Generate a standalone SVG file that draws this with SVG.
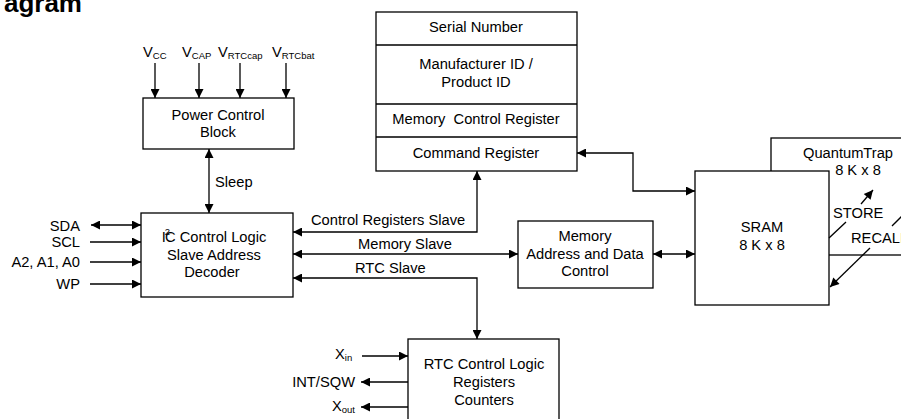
<svg xmlns="http://www.w3.org/2000/svg" width="901" height="419" viewBox="0 0 901 419">
<style>
text{font-family:"Liberation Sans",Arial,sans-serif;font-size:14.7px;fill:#000}
.c{text-anchor:middle}
.e{text-anchor:end}
.sub{font-size:9.5px}
.box{fill:#fff;stroke:#000;stroke-width:1.3}
.ln{fill:none;stroke:#000;stroke-width:1.3}
.ar{marker-end:url(#ah)}
.dar{marker-start:url(#ah);marker-end:url(#ah)}
.title{font-weight:bold;font-size:26px}
</style>
<defs>
<marker id="ah" viewBox="0 0 10 10" refX="10" refY="5" markerWidth="11" markerHeight="9" markerUnits="userSpaceOnUse" orient="auto-start-reverse">
<path d="M0,0 L10,5 L0,10 z" fill="#000"/>
</marker>
</defs>
<rect width="901" height="419" fill="#fff"/>
<text class="title e" x="82" y="12">agram</text>

<g id="power-inputs">
<text x="143" y="57">V<tspan class="sub" dy="1.5">CC</tspan></text>
<text x="182" y="57">V<tspan class="sub" dy="1.5">CAP</tspan></text>
<text x="218" y="57">V<tspan class="sub" dy="1.5">RTCcap</tspan></text>
<text x="272" y="57">V<tspan class="sub" dy="1.5">RTCbat</tspan></text>
</g>

<g id="power-control">
<rect class="box" x="143" y="98" width="151" height="51"/>
<text class="c" x="218" y="120">Power Control</text>
<text class="c" x="218" y="137">Block</text>
</g>

<g id="i2c-control">
<rect class="box" x="141" y="213" width="152" height="84"/>
<text class="c" x="214" y="242">I<tspan font-size="9.5px" dy="-7" dx="-1">2</tspan><tspan dy="7" dx="-5">C Control Logic</tspan></text>
<text class="c" x="214" y="260">Slave Address</text>
<text class="c" x="212" y="277">Decoder</text>
</g>

<g id="registers">
<rect class="box" x="376" y="12" width="201" height="159"/>
<path class="ln" d="M376,45 H577 M376,104 H577 M376,137 H577"/>
<text class="c" x="476" y="32">Serial Number</text>
<text class="c" x="476" y="69">Manufacturer ID /</text>
<text class="c" x="476" y="87">Product ID</text>
<text class="c" x="476" y="124" xml:space="preserve">Memory  Control Register</text>
<text class="c" x="476" y="158">Command Register</text>
</g>

<g id="memory-address">
<rect class="box" x="518" y="221" width="135" height="67"/>
<text class="c" x="585" y="241">Memory</text>
<text class="c" x="585" y="259">Address and Data</text>
<text class="c" x="585" y="276">Control</text>
</g>

<g id="quantumtrap">
<rect class="box" x="771" y="138" width="145" height="117"/>
<text class="c" x="848" y="158">QuantumTrap</text>
<text class="c" x="858" y="175">8 K x 8</text>
</g>

<g id="sram">
<rect class="box" x="695" y="171" width="134" height="134"/>
<text class="c" x="762" y="232">SRAM</text>
<text class="c" x="762" y="250">8 K x 8</text>
</g>

<g id="rtc">
<rect class="box" x="408" y="339" width="151" height="95"/>
<text class="c" x="484" y="369">RTC Control Logic</text>
<text class="c" x="484" y="387">Registers</text>
<text class="c" x="484" y="405">Counters</text>
</g>

<g id="left-labels">
<text class="e" x="80" y="231">SDA</text>
<text class="e" x="80" y="247">SCL</text>
<text class="e" x="80" y="267">A2, A1, A0</text>
<text class="e" x="80" y="289">WP</text>
<text x="215" y="187">Sleep</text>
<text x="311" y="225">Control Registers Slave</text>
<text x="358" y="249">Memory Slave</text>
<text x="355" y="273">RTC Slave</text>
<text x="833" y="218">STORE</text>
<text x="851" y="243">RECALL</text>
<text x="335" y="359">X<tspan class="sub" dy="1.5">in</tspan></text>
<text class="e" x="355" y="387">INT/SQW</text>
<text x="332" y="411">X<tspan class="sub" dy="1.5">out</tspan></text>
</g>

<g id="connectors">
<path class="ln ar" d="M155,63 V98"/>
<path class="ln ar" d="M199,63 V98"/>
<path class="ln ar" d="M240,63 V98"/>
<path class="ln ar" d="M286,63 V98"/>
<path class="ln dar" d="M209,149 V213"/>
<path class="ln dar" d="M91,225 H141"/>
<path class="ln ar" d="M90,242 H141"/>
<path class="ln ar" d="M90,262 H141"/>
<path class="ln ar" d="M90,284 H141"/>
<path class="ln dar" d="M293,232 H477 V171"/>
<path class="ln dar" d="M293,254 H518"/>
<path class="ln dar" d="M293,278 H477 V339"/>
<path class="ln dar" d="M653,254 H695"/>
<path class="ln dar" d="M577,153 H633 V191 H695"/>
<path class="ln" d="M829,238 L846,222"/>
<path class="ln ar" d="M861,204 L873,190"/>
<path class="ln" d="M892,226 L906,212"/>
<path class="ln ar" d="M870,248 L830,287"/>
<path class="ln ar" d="M362,356 H408"/>
<path class="ln ar" d="M408,382 H361"/>
<path class="ln ar" d="M408,407 H361"/>
</g>
</svg>
